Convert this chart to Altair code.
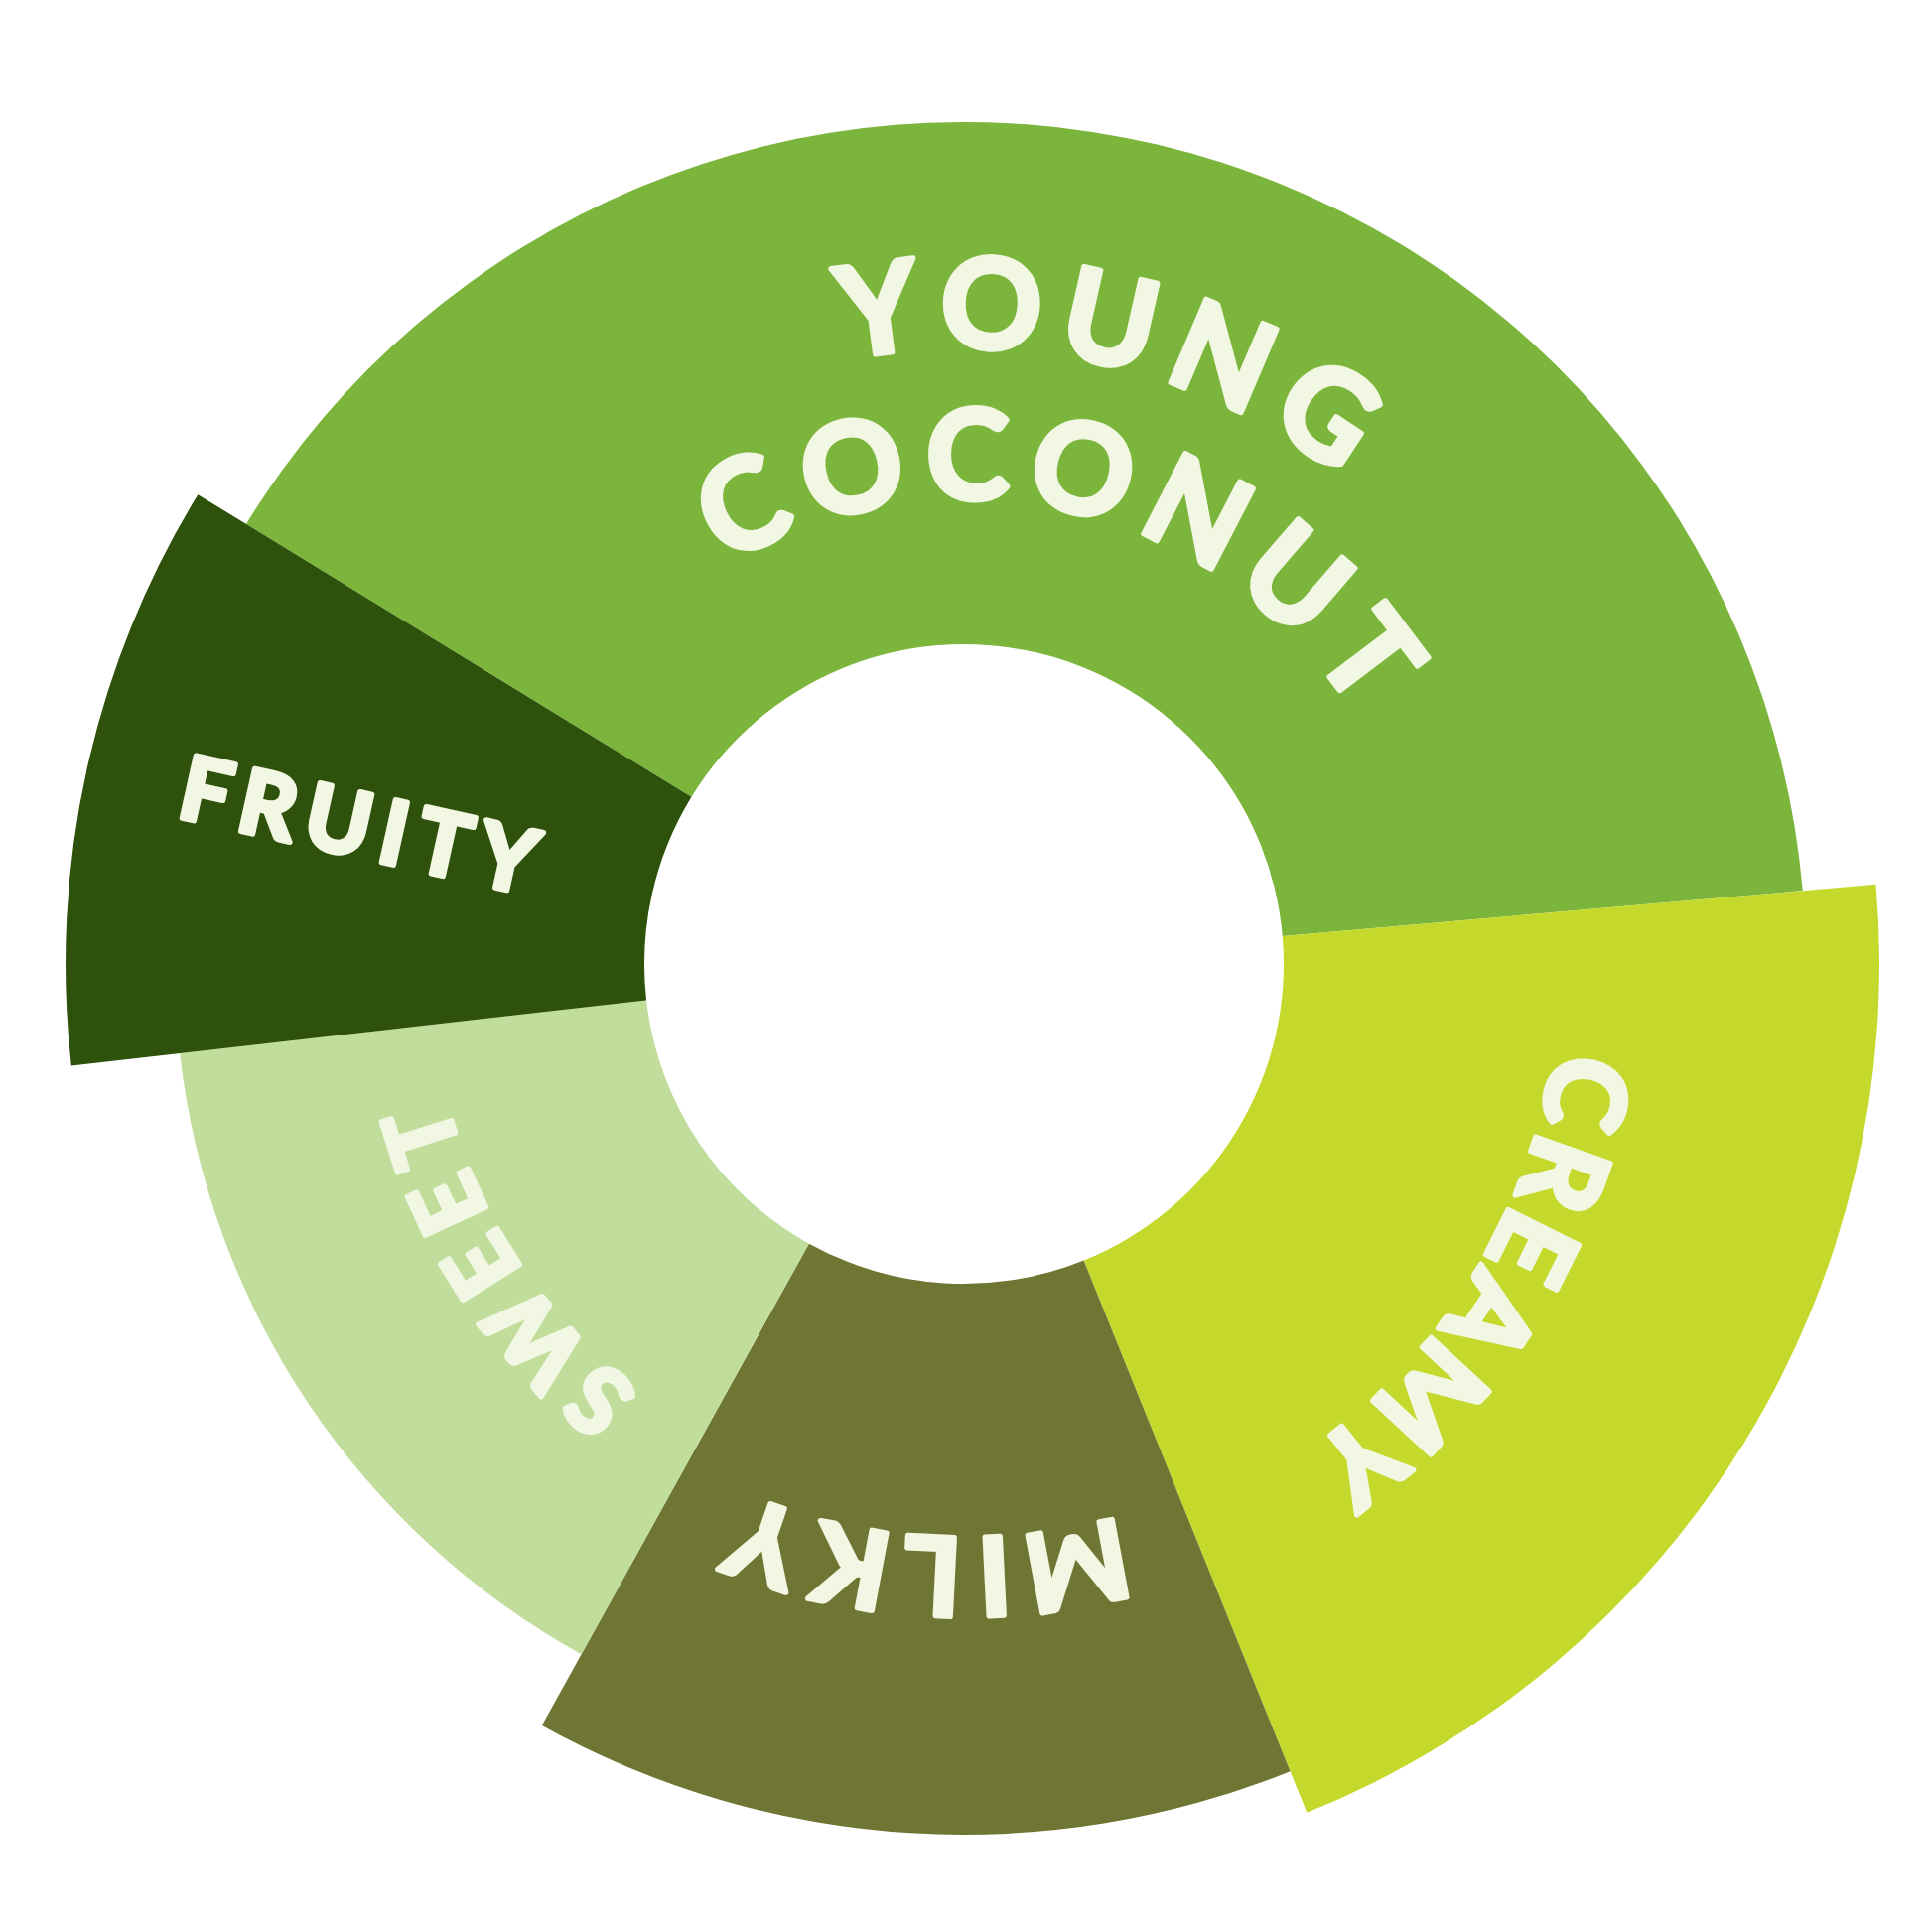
import math
import altair as alt
import pandas as pd

# ---- data ----
flavors = ["Young Coconut", "Creamy", "Milky", "Sweet", "Fruity"]
shares = [143.5, 73.0, 51.0, 54.5, 38.0]          # share of the wheel (degrees)
intensity = [84.8, 92.2, 87.7, 79.5, 90.5]         # strength -> outer radius
colors = ["#7cb53b", "#c5d92d", "#6f7633", "#c0dd9b", "#2e520c"]
labels = [["YOUNG", "COCONUT"], ["CREAMY"], ["MILKY"], ["SWEET"], ["FRUITY"]]
label_modes = ["arc", "arc", "arc", "arc", "radial"]

# ---- layout / style ----
START_DEG = -58.5
INNER = 322
PX_PER_UNIT = 10
FONT = [126, 110, 110, 93, 89]
TRACK = [0.20, 0.12, 0.17, 0.20, 0.14]
LINE_FRACS = {1: [0.52], 2: [0.64, 0.35]}
TEXT_COLOR = "#f2f7e3"
# approximate bold sans advance widths (em)
W = {"A": 0.68, "C": 0.66, "E": 0.56, "F": 0.53, "G": 0.72, "I": 0.29,
     "K": 0.66, "L": 0.49, "M": 0.88, "N": 0.76, "O": 0.78, "R": 0.63,
     "S": 0.53, "T": 0.58, "U": 0.72, "W": 0.98, "Y": 0.62}

starts, ends = [], []
cum = 0.0
for v in shares:
    starts.append(cum)
    cum += v
    ends.append(cum)

df = pd.DataFrame({
    "flavor": flavors,
    "share": shares,
    "start": starts,
    "end": ends,
    "intensity": intensity,
})

rows = []
for i, f in enumerate(flavors):
    mid = START_DEG + (starts[i] + ends[i]) / 2
    outer = intensity[i] * PX_PER_UNIT
    fs = FONT[i]
    tr = TRACK[i] * fs
    lines = labels[i]
    if label_modes[i] == "arc":
        for line, fr in zip(lines, LINE_FRACS[len(lines)]):
            r = INNER + fr * (outer - INNER)
            widths = [W[c] * fs for c in line]
            total = sum(widths) + tr * (len(line) - 1)
            pos = -total / 2
            for c, w in zip(line, widths):
                center = pos + w / 2
                th = mid + math.degrees(center / r)
                rows.append(dict(ch=c, theta=th, radius=r / PX_PER_UNIT, rot=th, size=fs))
                pos += w + tr
    else:
        line = lines[0]
        r_mid = INNER + 0.52 * (outer - INNER)
        widths = [W[c] * fs for c in line]
        total = sum(widths) + tr * (len(line) - 1)
        pos = -total / 2
        for c, w in zip(line, widths):
            center = pos + w / 2
            r = r_mid - center
            rows.append(dict(ch=c, theta=mid, radius=r / PX_PER_UNIT, rot=mid - 270, size=fs))
            pos += w + tr

letters = pd.DataFrame(rows)

s = math.radians(START_DEG)
theta_scale = alt.Scale(domain=[0, 360], range=[s, s + 2 * math.pi])
radius_scale = alt.Scale(type="linear", domain=[0, 100], range=[0, 100 * PX_PER_UNIT], zero=True)

arcs = alt.Chart(df).mark_arc(radius2=INNER, strokeWidth=0).encode(
    theta=alt.Theta("start:Q", scale=theta_scale, stack=False),
    theta2="end:Q",
    radius=alt.Radius("intensity:Q", scale=radius_scale),
    color=alt.Color("flavor:N", scale=alt.Scale(domain=flavors, range=colors), legend=None),
)

text_theta_scale = alt.Scale(domain=[0, 360], range=[0, 2 * math.pi])
text = alt.Chart(letters).mark_text(
    font="Lato", fontWeight="bold", color=TEXT_COLOR, stroke=TEXT_COLOR, strokeWidth=5.5,
    strokeJoin="round", align="center", baseline="middle"
).encode(
    theta=alt.Theta("theta:Q", stack=False, scale=text_theta_scale),
    radius=alt.Radius("radius:Q", scale=radius_scale),
    angle=alt.Angle("rot:Q", scale=None),
    size=alt.Size("size:Q", scale=None),
    text="ch:N",
)

chart = alt.layer(arcs, text).resolve_scale(theta="independent", radius="independent").properties(
    width=1926, height=1926, padding=0, autosize=alt.AutoSizeParams(type="none")
).configure_view(stroke=None)

chart.save("out.html", embed_options={"renderer": "svg", "actions": False})
